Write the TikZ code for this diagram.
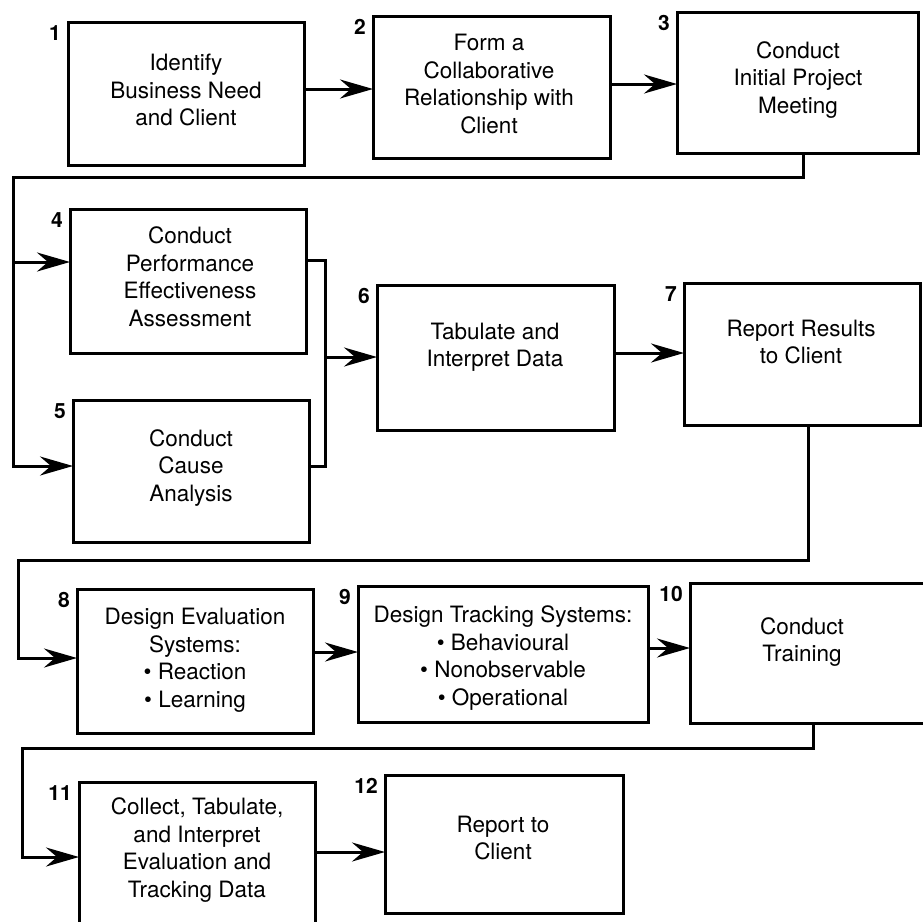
\documentclass[tikz,border=0pt]{standalone}
\usepackage{fontspec}
\setmainfont{TeX Gyre Heros}
\usetikzlibrary{arrows.meta}
\begin{document}
\begin{tikzpicture}[x=1pt,y=-1pt,
  box/.style={draw, line width=3pt, rectangle, outer sep=0pt, inner sep=0pt, anchor=north west},
  txt/.style={align=center, font=\fontsize{22.5pt}{27.5pt}\selectfont, inner sep=0pt},
  num/.style={font=\fontsize{21pt}{21pt}\selectfont\bfseries, inner sep=0pt, anchor=north east},
  conn/.style={line width=3pt, line join=miter},
  arr/.style={conn, -{Stealth[length=33pt,width=19pt,inset=11pt]}},
]
\useasboundingbox (0,0) rectangle (923,921);
\clip (0,0) rectangle (923,921);

% process boxes
\node[box, minimum width=236pt, minimum height=143pt] (b1) at (68,22) {};
\node[box, minimum width=237pt, minimum height=142pt] (b2) at (373,16) {};
\node[box, minimum width=241pt, minimum height=141pt] (b3) at (677,12) {};
\node[box, minimum width=236pt, minimum height=144pt] (b4) at (70,209) {};
\node[box, minimum width=236pt, minimum height=142pt] (b5) at (73,400) {};
\node[box, minimum width=237pt, minimum height=145pt] (b6) at (377,285) {};
\node[box, minimum width=236pt, minimum height=142pt] (b7) at (684,283) {};
\node[box, minimum width=236pt, minimum height=144pt] (b8) at (77,589) {};
\node[box, minimum width=290pt, minimum height=136pt] (b9) at (358,586) {};
\node[box, minimum width=240pt, minimum height=140pt] (b10) at (690,583) {};
\node[box, minimum width=236pt, minimum height=146pt] (b11) at (79,782) {};
\node[box, minimum width=238pt, minimum height=138pt] (b12) at (385,775) {};

% box texts
\node[txt] (t1) at (186,90) {Identify\\Business Need\\and Client};
\node[txt] (t2) at (489,84) {Form a\\Collaborative\\Relationship with\\Client};
\node[txt] (t3) at (798,80) {Conduct\\Initial Project\\Meeting};
\node[txt] (t4) at (190,277) {Conduct\\Performance\\Effectiveness\\Assessment};
\node[txt] (t5) at (191,468) {Conduct\\Cause\\Analysis};
\node[txt] (t6) at (495,347) {Tabulate and\\Interpret Data};
\node[txt] (t7) at (801,342) {Report Results\\to Client};
\node[txt] (t8) at (195,660) {Design Evaluation\\Systems:\\\textbullet\ Reaction\\\textbullet\ Learning};
\node[txt] (t9) at (503,658) {Design Tracking Systems:\\\textbullet\ Behavioural\\\textbullet\ Nonobservable\\\textbullet\ Operational};
\node[txt] (t10) at (802,642) {Conduct\\Training};
\node[txt] (t11) at (197,850) {Collect, Tabulate,\\and Interpret\\Evaluation and\\Tracking Data};
\node[txt] (t12) at (503,838) {Report to\\Client};

% step numbers
\foreach \b/\n in {b1/1,b2/2,b3/3,b4/4,b5/5,b6/6,b7/7,b8/8,b9/9,b10/10,b11/11,b12/12}
  \node[num] (n\n) at ([xshift=-7pt,yshift=-3pt]\b.north west) {\n};

% row 1
\coordinate (y12) at (0,89);
\draw[arr] (b1.east |- y12) -- (b2.west |- y12);
\coordinate (y23) at (0,84);
\draw[arr] (b2.east |- y23) -- (b3.west |- y23);

% 3 -> 4 and 5
\coordinate (k3a) at (803,177);
\coordinate (k3b) at (13,177);
\coordinate (y4) at (0,262);
\coordinate (y5) at (0,466);
\draw[arr] (b3.south -| k3a) -- (k3a) -- (k3b) |- (b5.west |- y5);
\draw[arr] (k3b |- y4) -- (b4.west |- y4);

% 4 and 5 -> 6
\coordinate (k4a) at (325,260);
\coordinate (k4b) at (325,466);
\coordinate (y6) at (0,357);
\draw[conn] (b4.east |- k4a) -- (k4a) -- (k4b) -- (b5.east |- k4b);
\draw[arr] (k4a |- y6) -- (b6.west |- y6);

% 6 -> 7
\coordinate (y67) at (0,353);
\draw[arr] (b6.east |- y67) -- (b7.west |- y67);

% 7 -> 8
\coordinate (k7a) at (808,560);
\coordinate (k7b) at (18,560);
\coordinate (y8) at (0,658);
\draw[arr] (b7.south -| k7a) -- (k7a) -- (k7b) |- (b8.west |- y8);

% 8 -> 9 -> 10
\coordinate (y89) at (0,652);
\draw[arr] (b8.east |- y89) -- (b9.west |- y89);
\coordinate (y910) at (0,648);
\draw[arr] (b9.east |- y910) -- (b10.west |- y910);

% 10 -> 11
\coordinate (k10a) at (813,748);
\coordinate (k10b) at (22,748);
\coordinate (y11) at (0,857);
\draw[arr] (b10.south -| k10a) -- (k10a) -- (k10b) |- (b11.west |- y11);

% 11 -> 12
\coordinate (y1112) at (0,852);
\draw[arr] (b11.east |- y1112) -- (b12.west |- y1112);
\end{tikzpicture}
\end{document}
